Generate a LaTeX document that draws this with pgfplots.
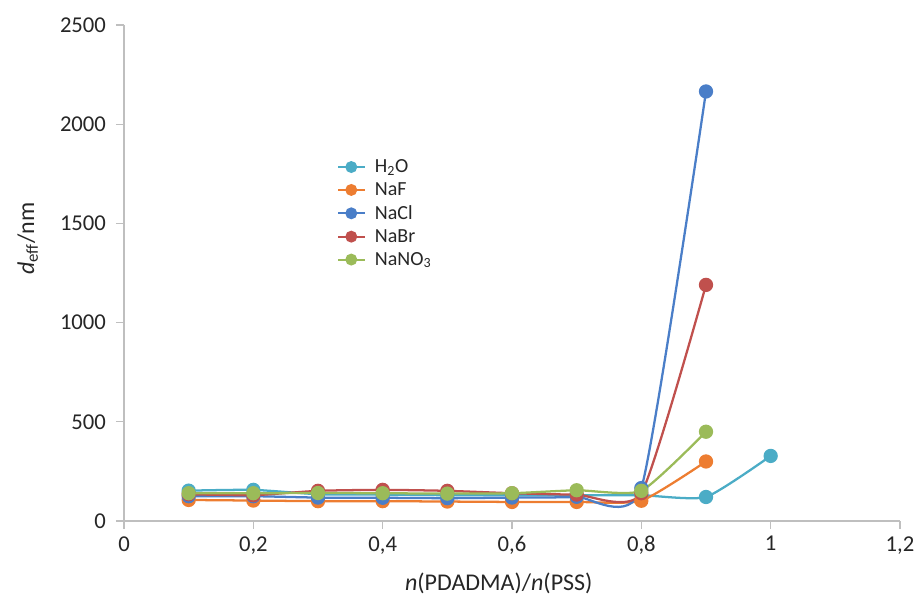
\documentclass[border=0pt]{standalone}
\usepackage{pgfplots}
\pgfplotsset{compat=1.18}
\usepackage{fontspec}
\setmainfont{Carlito}
\usetikzlibrary{calc}
\definecolor{cH}{HTML}{4BACC6}
\definecolor{cF}{HTML}{ED7D31}
\definecolor{cCl}{HTML}{4A7EC8}
\definecolor{cBr}{HTML}{C0504D}
\definecolor{cN}{HTML}{9BBB59}
\definecolor{axgray}{HTML}{BFBFBF}
\definecolor{txt}{HTML}{262626}
\begin{document}
\begin{tikzpicture}
\begin{axis}[
  name=ax,
  scale only axis,
  width=582pt, height=372pt,
  xmin=0, xmax=1.2, ymin=0, ymax=2500,
  xtick={0,0.2,...,1.2}, ytick={0,500,...,2500},
  axis x line=bottom, axis y line=left,
  axis line style={-, axgray, line width=0.8pt},
  tick style={axgray, line width=0.8pt},
  tick align=outside,
  major tick length=6pt,
  /pgf/number format/assume math mode=true,
  /pgf/number format/use comma,
  /pgf/number format/1000 sep={},
  tick label style={font=\fontsize{17}{20}\selectfont, text=txt},
  xticklabel style={yshift=-2pt},
  yticklabel style={xshift=-4pt},
  xlabel={\textit{n}(PDADMA)/\textit{n}(PSS)},
  ylabel={\textit{d}\textsubscript{eff}/nm},
  every axis x label/.style={at={(axis description cs:0.483,-0.125)}, anchor=center, font=\fontsize{18}{21}\selectfont, text=txt},
  every axis y label/.style={at={(axis description cs:-0.124,0.569)}, anchor=center, rotate=90, font=\fontsize{18}{21}\selectfont, text=txt},
  clip=false,
  legend style={at={(axis description cs:0.269,0.74)}, anchor=north west, draw=none, fill=none,
    font=\fontsize{15}{18}\selectfont, text=txt, row sep=2pt, column sep=5pt},
  legend cell align=left,
  legend image code/.code={\draw[#1, line width=1.5pt, mark repeat=2, mark phase=2, mark size=3.7pt] plot coordinates {(0cm,0cm)(0.35cm,0cm)(0.7cm,0cm)};},
  every axis plot/.append style={line width=1.7pt, mark=*, mark size=4.5pt, smooth, tension=0.33},
]
\addplot[cH, mark options={fill=cH, draw=cH}] coordinates {(0.1,153)(0.2,157)(0.3,135)(0.4,133)(0.5,130)(0.6,130)(0.7,130)(0.8,130)(0.9,121)(1.0,328)};
\addlegendentry{H\textsubscript{2}O}
\addplot[cF, mark options={fill=cF, draw=cF}] coordinates {(0.1,106)(0.2,103)(0.3,100)(0.4,100)(0.5,98)(0.6,96)(0.7,96)(0.8,102)(0.9,300)};
\addlegendentry{NaF}
\addplot[cCl, mark options={fill=cCl, draw=cCl}] coordinates {(0.1,125)(0.2,125)(0.3,118)(0.4,117)(0.5,115)(0.6,118)(0.7,122)(0.8,166)(0.9,2165)};
\addlegendentry{NaCl}
\addplot[cBr, mark options={fill=cBr, draw=cBr}] coordinates {(0.1,135)(0.2,130)(0.3,152)(0.4,157)(0.5,152)(0.6,140)(0.7,133)(0.8,140)(0.9,1190)};
\addlegendentry{NaBr}
\addplot[cN, mark options={fill=cN, draw=cN}] coordinates {(0.1,140)(0.2,140)(0.3,141)(0.4,140)(0.5,138)(0.6,140)(0.7,155)(0.8,152)(0.9,450)};
\addlegendentry{NaNO\textsubscript{3}}
\end{axis}
\pgfresetboundingbox
\useasboundingbox ($(ax.south west)+(-93pt,-60pt)$) rectangle ($(ax.north east)+(12.75pt,18.75pt)$);
\end{tikzpicture}
\end{document}
